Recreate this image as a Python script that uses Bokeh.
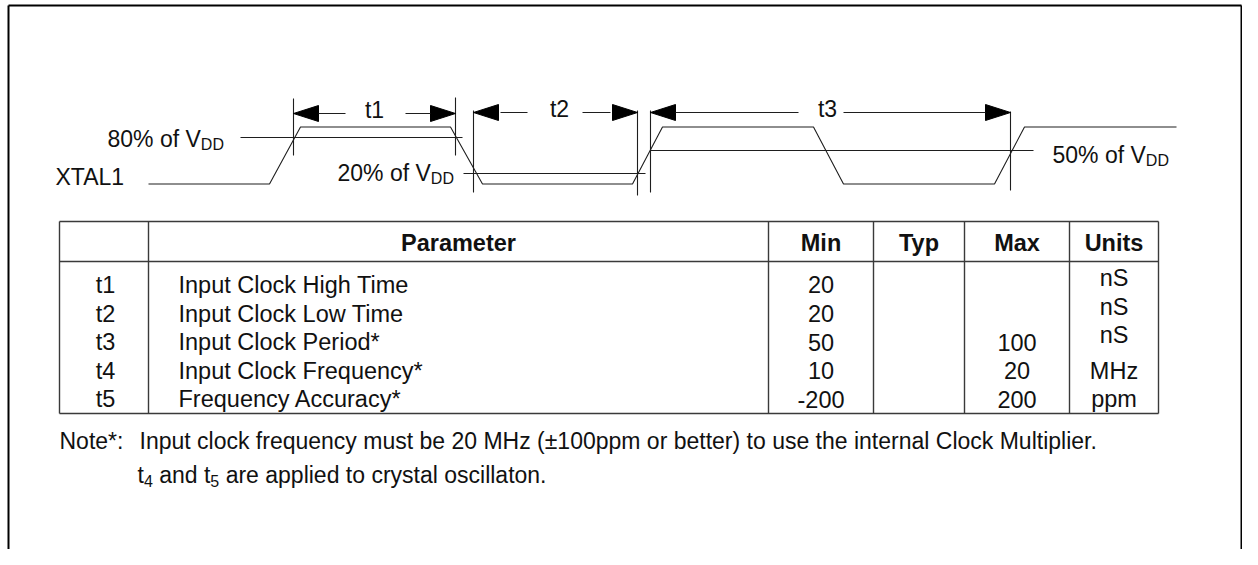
from bokeh.plotting import figure
from bokeh.models import Range1d, ColumnDataSource
from bokeh.core.properties import value
from bokeh.embed import file_html
from bokeh.resources import INLINE

# ---------------- data ----------------
HEADERS = ["", "Parameter", "Min", "Typ", "Max", "Units"]
SYMBOLS = ["t1", "t2", "t3", "t4", "t5"]
PARAMETERS = ["Input Clock High Time", "Input Clock Low Time", "Input Clock Period*",
              "Input Clock Frequency*", "Frequency Accuracy*"]
MIN_VALUES = ["20", "20", "50", "10", "-200"]
TYP_VALUES = ["", "", "", "", ""]
MAX_VALUES = ["", "", "100", "20", "200"]
UNITS = ["nS", "nS", "nS", "MHz", "ppm"]

NOTE_LABEL = "Note*:"
NOTE_LINE1 = "Input clock frequency must be 20 MHz (\u00b1100ppm or better) to use the internal Clock Multiplier."
NOTE_LINE2 = [("t", False), ("4", True), (" and t", False), ("5", True),
              (" are applied to crystal oscillaton.", False)]

SIGNAL_NAME = "XTAL1"
# waveform vertices (time position on the drawing, logic level 0 = low / 1 = high)
WAVE_T = [148, 269, 300, 450, 482, 632, 662, 813, 843, 994, 1024, 1176]
WAVE_LEVEL = [0, 0, 1, 1, 0, 0, 1, 1, 0, 0, 1, 1]

THRESHOLD_TEXT = ["80% of V", "20% of V", "50% of V"]
THRESHOLD_SUB = ["DD", "DD", "DD"]

DIM_NAMES = ["t1", "t2", "t3"]

# ---------------- layout ----------------
W, H = 1242, 549
INK = "#111111"
LINE = "#1e1e1e"
GRID = "#3a3a3a"
FONT = value("Liberation Sans")
FS = 23.5      # table font size (px)
FS_NOTE = 23
FS_SUB = 16

LOW_Y, HIGH_Y = 183.5, 126.5

p = figure(width=W, height=H, x_range=Range1d(0, W), y_range=Range1d(H, 0),
           output_backend="svg", toolbar_location=None, x_axis_type=None, y_axis_type=None,
           min_border=0, outline_line_color=None,
           background_fill_color="white", border_fill_color="white")
p.xgrid.visible = False
p.ygrid.visible = False

ARIAL = {' ': 278, '%': 889, 'o': 556, 'f': 278, 'V': 667, 'D': 722, 't': 278, 'a': 556,
         'n': 556, 'd': 556, 'r': 333, 'e': 556, 'p': 556, 'l': 222, 'i': 222, 'c': 500,
         'y': 500, 's': 500, '.': 278}
for d in "0123456789":
    ARIAL[d] = 556


def tw(s, size):
    return sum(ARIAL.get(ch, 556) for ch in s) * size / 1000.0


def txt(x, y, s, size, align="left", bold=False):
    lead = len(s) - len(s.lstrip(" "))
    x = x + tw(" " * lead, size) if align == "left" else x
    p.text(x=[x], y=[y], text=[s.strip(" ")], text_font=FONT, text_font_size=f"{size}px",
           text_align=align, text_baseline="alphabetic", text_color=INK,
           text_font_style="bold" if bold else "normal")


# outer frame (left, top, right)
p.segment(x0=[8, 8, 1241], y0=[H, 5, 5], x1=[8, 1241, 1241], y1=[5, 5, H],
          line_color="black", line_width=2)

# ---------------- waveform ----------------
wave_y = [LOW_Y + (HIGH_Y - LOW_Y) * lv for lv in WAVE_LEVEL]
p.line(x=WAVE_T, y=wave_y, line_color=LINE, line_width=1.1)

# threshold reference lines
th_y = [137, 173, 150]
th_x0 = [240, 463, 650]
th_x1 = [462, 645, 1033]
p.segment(x0=th_x0, y0=th_y, x1=th_x1, y1=th_y, line_color=LINE, line_width=1.1)

# threshold labels with subscripts
lab_x = [107, 337, 1052]
lab_y = [138, 172, 154]
for s, sub, x, y in zip(THRESHOLD_TEXT, THRESHOLD_SUB, lab_x, lab_y):
    txt(x, y, s, 23)
    txt(x + tw(s, 23), y + 6, sub, FS_SUB)

txt(55, 176, SIGNAL_NAME, 23)

# dimension markers
tick_x = [293, 455, 473, 637, 650, 1010]
tick_y0 = [98, 97, 110, 110, 110, 111]
tick_y1 = [155, 155, 192, 195, 192, 190]
p.segment(x0=tick_x, y0=tick_y0, x1=tick_x, y1=tick_y1, line_color=LINE, line_width=1.1)

dim_left = [293, 473, 650]
dim_right = [455, 637, 1010]
dim_y = [113, 112, 112]
dim_label_x = [374, 559, 827]
dim_line_l = [(318, 345), (500, 527), (675, 798)]
dim_line_r = [(405, 430), (582, 610), (843, 985)]
AL, AH = 25, 8
xs, ys = [], []
for l, r, y in zip(dim_left, dim_right, dim_y):
    xs.append([l, l + AL, l + AL]); ys.append([y, y - AH, y + AH])
    xs.append([r, r - AL, r - AL]); ys.append([y, y - AH, y + AH])
p.patches(xs=xs, ys=ys, fill_color="black", line_color="black", line_width=1)
seg_x0 = [a for a, b in dim_line_l] + [a for a, b in dim_line_r]
seg_x1 = [b for a, b in dim_line_l] + [b for a, b in dim_line_r]
seg_y = dim_y + dim_y
p.segment(x0=seg_x0, y0=seg_y, x1=seg_x1, y1=seg_y, line_color=LINE, line_width=1.1)
for name, x, y in zip(DIM_NAMES, dim_label_x, dim_y):
    txt(x, y - 4, name, 23, align="center")

# ---------------- table ----------------
col_edges = [59, 148, 768, 873, 964, 1069, 1158]
T_TOP, T_HEAD, T_BOT = 221, 261, 413
p.segment(x0=[col_edges[0]] * 3, x1=[col_edges[-1]] * 3, y0=[T_TOP, T_HEAD, T_BOT],
          y1=[T_TOP, T_HEAD, T_BOT], line_color=GRID, line_width=1.4)
p.segment(x0=col_edges, x1=col_edges, y0=[T_TOP] * len(col_edges), y1=[T_BOT] * len(col_edges),
          line_color=GRID, line_width=1.4)

centers = [(a + b) / 2 for a, b in zip(col_edges[:-1], col_edges[1:])]
head_src = ColumnDataSource(dict(x=centers[1:], y=[242] * 5, text=HEADERS[1:]))
p.text(x="x", y="y", text="text", source=head_src, text_font=FONT, text_font_size=f"{FS}px",
       text_font_style="bold", text_align="center", text_baseline="alphabetic", text_color=INK)

row_y = [284, 313, 341.5, 370, 398.5]
unit_shift = [-7 if u == "nS" else 0 for u in UNITS]

cx, cy, ct, ca = [], [], [], []
for i in range(len(SYMBOLS)):
    y = row_y[i]
    cx += [105, 178, centers[2], centers[3], centers[4], centers[5]]
    cy += [y, y, y, y, y, y + unit_shift[i]]
    ct += [SYMBOLS[i], PARAMETERS[i], MIN_VALUES[i], TYP_VALUES[i], MAX_VALUES[i], UNITS[i]]
    ca += ["center", "left", "center", "center", "center", "center"]
body_src = ColumnDataSource(dict(x=cx, y=cy, text=ct, align=ca))
p.text(x="x", y="y", text="text", text_align="align", source=body_src, text_font=FONT,
       text_font_size=f"{FS}px", text_baseline="alphabetic", text_color=INK)

# ---------------- note ----------------
txt(59, 440, NOTE_LABEL, FS_NOTE)
txt(139, 440, NOTE_LINE1, FS_NOTE)
x = 137
for s, is_sub in NOTE_LINE2:
    size = FS_SUB if is_sub else FS_NOTE
    txt(x, 474 + (6 if is_sub else 0), s, size)
    x += tw(s, size)

open("out.html", "w").write(file_html(p, INLINE))
